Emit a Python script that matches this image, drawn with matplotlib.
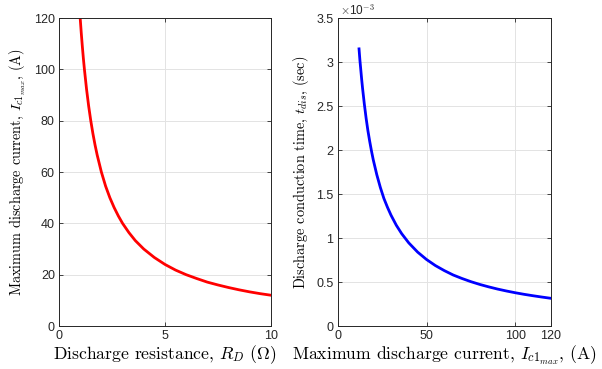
import matplotlib
matplotlib.use('Agg')
import matplotlib.pyplot as plt
from matplotlib.ticker import FuncFormatter

plt.rcParams['font.family'] = ['Liberation Sans', 'DejaVu Sans']
plt.rcParams['mathtext.fontset'] = 'cm'
plt.rcParams['axes.unicode_minus'] = False

# Left panel: discharge resistance (ohm) vs maximum discharge current (A)
resistencia = [1.0, 1.05, 1.1, 1.15, 1.2, 1.3, 1.4, 1.5, 1.6, 1.7, 1.8, 2.0,
               2.2, 2.4, 2.6, 2.8, 3.0, 3.3, 3.6, 4.0, 4.5, 5.0, 5.5, 6.0,
               6.5, 7.0, 7.5, 8.0, 8.5, 9.0, 9.5, 10.0]
corriente = [120, 114.3, 109.1, 104.3, 100, 92.3, 85.7, 80, 75, 70.6, 66.7,
             60, 54.5, 50, 46.2, 42.9, 40, 36.4, 33.3, 30, 26.7, 24, 21.8,
             20, 18.5, 17.1, 16, 15, 14.1, 13.3, 12.6, 12]

# Right panel: maximum discharge current (A) vs conduction time (x1e-3 s)
corriente_max = [12, 12.5, 13, 13.5, 14, 15, 16, 17, 18, 19, 20, 22, 24, 26,
                 28, 30, 33, 36, 40, 45, 50, 55, 60, 65, 70, 75, 80, 85, 90,
                 95, 100, 105, 110, 115, 120]
tiempo_ms = [3.15, 3.02, 2.91, 2.80, 2.70, 2.52, 2.36, 2.22, 2.10, 1.99,
             1.89, 1.72, 1.575, 1.45, 1.35, 1.26, 1.145, 1.05, 0.945, 0.84,
             0.756, 0.687, 0.63, 0.58, 0.54, 0.504, 0.4725, 0.445, 0.42,
             0.398, 0.378, 0.36, 0.344, 0.329, 0.315]

fig = plt.figure(figsize=(6.02, 3.69), dpi=100)
ax1 = fig.add_axes([0.098, 0.1165, 0.352, 0.8345])
ax2 = fig.add_axes([0.561, 0.1165, 0.354, 0.8345])

fuente_x = dict(fontfamily='cmr10', fontsize=12.7)
fuente_y = dict(fontfamily='cmr10', fontsize=10.3)


def estilo(ax):
    ax.grid(True, color='#e3e3e3', linewidth=0.7)
    ax.set_axisbelow(True)
    ax.tick_params(direction='in', top=True, right=True, labelsize=9,
                   colors='#262626', length=3, width=0.6, pad=3)
    for s in ax.spines.values():
        s.set_color('#262626')
        s.set_linewidth(0.7)


ax1.plot(resistencia, corriente, color='red', linewidth=2)
ax1.set_xlim(0, 10)
ax1.set_ylim(0, 120)
ax1.set_xticks([0, 5, 10])
ax1.set_yticks([0, 20, 40, 60, 80, 100, 120])
ax1.set_xlabel(r'Discharge resistance, $R_D$ ($\Omega$)', labelpad=1, **fuente_x)
ax1.set_ylabel(r'Maximum discharge current, $I_{c1_{max}}$, (A)', labelpad=4, **fuente_y)
estilo(ax1)

ax2.plot(corriente_max, tiempo_ms, color='blue', linewidth=2)
ax2.set_xlim(0, 120)
ax2.set_ylim(0, 3.5)
ax2.set_xticks([0, 50, 100, 120])
ax2.set_yticks([0, 0.5, 1, 1.5, 2, 2.5, 3, 3.5])
ax2.yaxis.set_major_formatter(FuncFormatter(lambda v, p: '%g' % v))
ax2.set_xlabel(r'Maximum discharge current, $I_{c1_{max}}$, (A)', labelpad=1, **fuente_x)
ax2.set_ylabel(r'Discharge conduction time, $t_{dis}$, (sec)', labelpad=4, **fuente_y)
ax2.text(0.01, 1.0, r'$\times$10$^{\mathsf{-3}}$', transform=ax2.transAxes,
         fontsize=8.5, color='#262626', ha='left', va='bottom')
estilo(ax2)

fig.savefig('out.png', dpi=100)
